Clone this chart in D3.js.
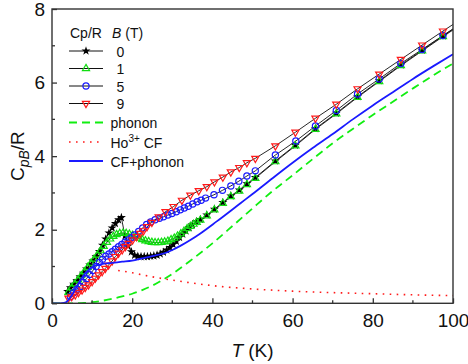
<!DOCTYPE html>
<html>
<head>
<meta charset="utf-8">
<script src="https://cdn.jsdelivr.net/npm/d3@7"></script>
<style>
  body { margin: 0; background: #fff; }
  svg { font-family: "Liberation Sans", Arial, sans-serif; }
</style>
</head>
<body>
<div id="chart"></div>
<script>
// measured data, [T (K), Cp/R]
const field0 = [[3.9,0.32],[4.6,0.42],[5.4,0.52],[6.2,0.62],[7.0,0.72],[7.8,0.82],[8.6,0.93],[9.4,1.04],[10.2,1.15],[11.0,1.27],[11.8,1.41],[12.6,1.58],[13.4,1.75],[14.2,1.91],[15.0,2.05],[15.8,2.17],[16.6,2.27],[17.3,2.33],[18.2,1.83],[19.0,1.56],[19.8,1.40],[20.6,1.31],[21.4,1.28],[22.2,1.27],[23.0,1.27],[23.8,1.27],[24.6,1.28],[25.4,1.29],[26.2,1.31],[27.0,1.34],[27.8,1.39],[28.6,1.45],[29.4,1.52],[30.2,1.60],[31.0,1.69],[31.8,1.79],[32.6,1.88],[33.4,1.97],[34.2,2.06],[35.0,2.14],[36.0,2.22],[37.0,2.28],[38.6,2.40],[40.5,2.56],[42.6,2.74],[44.6,2.92],[46.7,3.08],[48.6,3.25],[50.7,3.42],[55.7,3.87],[60.7,4.30],[65.7,4.75],[70.9,5.17],[76.2,5.62],[81.6,6.05],[87.0,6.48],[92.3,6.88],[97.5,7.27],[100,7.45]];
const field1 = [[4.1,0.30],[4.9,0.42],[5.7,0.53],[6.5,0.64],[7.3,0.75],[8.1,0.86],[8.9,0.98],[9.7,1.09],[10.5,1.20],[11.3,1.31],[12.1,1.43],[12.9,1.55],[13.7,1.66],[14.5,1.75],[15.3,1.82],[16.1,1.87],[16.9,1.90],[17.7,1.91],[18.5,1.90],[19.3,1.88],[20.1,1.85],[20.9,1.81],[21.7,1.77],[22.5,1.73],[23.3,1.70],[24.1,1.68],[24.9,1.66],[25.7,1.65],[26.5,1.65],[27.3,1.66],[28.1,1.67],[28.9,1.69],[29.7,1.73],[30.5,1.77],[31.3,1.83],[32.1,1.89],[32.9,1.96],[33.7,2.03],[34.5,2.09],[35.3,2.15],[36.1,2.20],[37.0,2.26],[38.6,2.38],[40.5,2.54],[42.6,2.72],[44.6,2.90],[46.7,3.05],[48.6,3.23],[50.7,3.40],[55.7,3.85],[60.7,4.28],[65.7,4.73],[70.9,5.15],[76.2,5.60],[81.6,6.03],[87.0,6.46],[92.3,6.86],[97.5,7.25],[100,7.43]];
const field5 = [[4.6,0.18],[5.4,0.29],[6.2,0.38],[7.0,0.46],[7.8,0.57],[8.6,0.67],[9.4,0.78],[10.2,0.89],[11.0,1.00],[11.8,1.11],[12.6,1.20],[13.4,1.28],[14.2,1.34],[15.0,1.40],[15.8,1.47],[16.6,1.54],[17.4,1.60],[18.2,1.66],[19.0,1.72],[19.8,1.78],[20.6,1.86],[21.6,1.95],[22.6,2.05],[23.6,2.14],[24.6,2.21],[25.7,2.27],[26.8,2.31],[27.8,2.35],[28.9,2.40],[29.9,2.44],[31.0,2.49],[32.0,2.54],[33.0,2.59],[34.0,2.64],[35.1,2.70],[36.2,2.76],[37.2,2.80],[38.3,2.86],[40.4,2.95],[42.5,3.07],[44.6,3.19],[46.6,3.32],[48.6,3.46],[50.7,3.60],[55.7,4.03],[60.8,4.41],[65.7,4.82],[70.9,5.24],[76.2,5.69],[81.6,6.10],[87.0,6.52],[92.3,6.90],[97.5,7.28],[100,7.46]];
const field9 = [[4.1,0.14],[4.9,0.18],[5.8,0.23],[6.6,0.29],[7.5,0.36],[8.3,0.43],[9.1,0.50],[10.0,0.59],[10.8,0.68],[11.6,0.77],[12.5,0.86],[13.3,0.95],[14.1,1.04],[15.0,1.15],[15.8,1.27],[16.6,1.36],[17.5,1.45],[18.3,1.54],[19.1,1.63],[20.1,1.72],[21.1,1.81],[22.0,1.90],[22.8,1.97],[23.7,2.08],[24.9,2.20],[26.6,2.35],[28.3,2.49],[30.3,2.63],[32.4,2.80],[34.5,2.94],[36.6,3.06],[38.6,3.17],[40.5,3.30],[42.6,3.43],[44.6,3.57],[46.7,3.69],[48.6,3.82],[50.7,3.94],[55.7,4.28],[60.7,4.65],[65.7,5.03],[70.9,5.41],[76.2,5.83],[81.6,6.23],[87.0,6.63],[92.3,7.02],[97.5,7.40],[100,7.58]];

// model curves
const phononT = [0,5,8,10,12,15,17.5,20,22.5,25,27.5,30,35,40,45,50,55,60,65,70,75,80,85,90,95,100];
const phononV = [0,0,0.01,0.03,0.06,0.12,0.19,0.26,0.36,0.48,0.63,0.80,1.20,1.63,2.10,2.58,3.05,3.48,3.92,4.35,4.74,5.12,5.48,5.84,6.19,6.52];
const cfT = [16.5,18,20,25,30,35,40,50,60,70,80,90,100];
const cfV = [0.89,0.87,0.83,0.72,0.63,0.55,0.48,0.39,0.33,0.29,0.26,0.23,0.21];
const totalT = [0,2,3,3.5,4,4.5,5,5.5,6,6.6,7.4,8.3,9.1,10,11,12.5,15,17.5,20,22.5,25,28,30,32,34.5,37,41,47,50,55,60,65,70,75,80,85,90,95,100];
const totalV = [0,0,0.01,0.03,0.08,0.15,0.23,0.32,0.42,0.54,0.68,0.82,0.91,0.98,1.03,1.07,1.10,1.13,1.16,1.22,1.28,1.36,1.45,1.56,1.72,1.90,2.22,2.72,2.97,3.40,3.82,4.22,4.60,5.00,5.38,5.74,6.10,6.44,6.77];

const xTicks = [0, 20, 40, 60, 80, 100];
const yTicks = [0, 2, 4, 6, 8];

const width = 468, height = 364;
const mLeft = 52, mRight = 453, mTop = 9, mBottom = 303.3;

const svg = d3.select('#chart').append('svg')
    .attr('width', width)
    .attr('height', height);

const x = d3.scaleLinear().domain([0, 100]).range([mLeft, mRight]);
const y = d3.scaleLinear().domain([0, 8]).range([mBottom, mTop]);

svg.append('clipPath').attr('id', 'plot')
    .append('rect').attr('x', mLeft).attr('y', mTop)
    .attr('width', mRight - mLeft).attr('height', mBottom - mTop);

const plot = svg.append('g').attr('clip-path', 'url(#plot)');

const line = d3.line().x(d => x(d[0])).y(d => y(d[1]));
const zip = (ts, vs) => ts.map((t, i) => [t, vs[i]]);

// model curves
plot.append('path').datum(zip(phononT, phononV))
    .attr('d', line.curve(d3.curveMonotoneX))
    .attr('fill', 'none').attr('stroke', '#11ee11')
    .attr('stroke-width', 1.8).attr('stroke-dasharray', '8,5');
plot.append('path').datum(zip(cfT, cfV))
    .attr('d', line.curve(d3.curveMonotoneX))
    .attr('fill', 'none').attr('stroke', '#ff1a1a')
    .attr('stroke-width', 1.6).attr('stroke-dasharray', '1.6,5.4');

const series = [
    { label: '0', data: field0, color: '#000', shape: 'star' },
    { label: '1', data: field1, color: '#11dd11', shape: 'up' },
    { label: '5', data: field5, color: '#1a1aff', shape: 'circle' },
    { label: '9', data: field9, color: '#ff1a1a', shape: 'down' }
];

const sym = {
    star: d3.symbol().type(d3.symbolStar).size(9),
    up: d3.symbol().type(d3.symbolTriangle).size(22),
    down: d3.symbol().type(d3.symbolTriangle).size(22),
    circle: null
};

function marker(g, s, cx, cy) {
    if (s.shape === 'circle') {
        g.append('circle').attr('cx', cx).attr('cy', cy).attr('r', 3.1)
            .attr('fill', 'none').attr('stroke', s.color).attr('stroke-width', 1.2);
    } else {
        const rot = s.shape === 'down' ? 180 : 0;
        g.append('path').attr('d', sym[s.shape]())
            .attr('transform', `translate(${cx},${cy}) rotate(${rot})`)
            .attr('fill', s.shape === 'star' ? s.color : 'none')
            .attr('stroke', s.color).attr('stroke-width', 1.2);
    }
}

// connecting lines first, then markers
series.forEach(s => {
    plot.append('path').datum(s.data)
        .attr('d', line.curve(d3.curveLinear))
        .attr('fill', 'none').attr('stroke', '#111').attr('stroke-width', 0.9);
});
series.forEach(s => {
    const g = plot.append('g');
    s.data.filter(d => d[0] < 99).forEach(d => marker(g, s, x(d[0]), y(d[1])));
});

plot.append('path').datum(zip(totalT, totalV))
    .attr('d', line.curve(d3.curveMonotoneX))
    .attr('fill', 'none').attr('stroke', '#1a1aff').attr('stroke-width', 1.8);

// axes
const axisColor = '#333';
const xAxis = svg.append('g').attr('transform', `translate(0,${mBottom})`)
    .call(d3.axisBottom(x).tickValues(xTicks).tickSize(-5).tickPadding(10));
const yAxis = svg.append('g').attr('transform', `translate(${mLeft},0)`)
    .call(d3.axisLeft(y).tickValues(yTicks).tickSize(-5).tickPadding(7));
[xAxis, yAxis].forEach(a => {
    a.select('.domain').remove();
    a.selectAll('line').attr('stroke', axisColor).attr('stroke-width', 1.3);
    a.selectAll('text').attr('font-size', 19).attr('fill', '#111')
        .attr('font-family', '"Liberation Sans", Arial, sans-serif');
});

svg.append('g').selectAll('line').data(d3.range(10, 100, 20)).join('line')
    .attr('x1', d => x(d)).attr('x2', d => x(d))
    .attr('y1', mBottom).attr('y2', mBottom - 3)
    .attr('stroke', axisColor).attr('stroke-width', 1.3);
svg.append('g').selectAll('line').data(d3.range(1, 8, 2)).join('line')
    .attr('x1', mLeft).attr('x2', mLeft + 3)
    .attr('y1', d => y(d)).attr('y2', d => y(d))
    .attr('stroke', axisColor).attr('stroke-width', 1.3);

svg.append('rect').attr('x', mLeft).attr('y', mTop)
    .attr('width', mRight - mLeft).attr('height', mBottom - mTop)
    .attr('fill', 'none').attr('stroke', axisColor).attr('stroke-width', 1.4);

// axis titles
const xt = svg.append('text').attr('x', (mLeft + mRight) / 2).attr('y', 356.5)
    .attr('text-anchor', 'middle').attr('font-size', 19).attr('fill', '#111');
xt.append('tspan').attr('font-style', 'italic').text('T');
xt.append('tspan').text(' (K)');

const yt = svg.append('text')
    .attr('transform', `translate(24,${(mTop + mBottom) / 2}) rotate(-90)`)
    .attr('text-anchor', 'middle').attr('font-size', 19).attr('fill', '#111');
yt.append('tspan').text('C');
yt.append('tspan').attr('font-style', 'italic').attr('font-size', 14).attr('dy', 5).text('pB');
yt.append('tspan').attr('dy', -5).text('/R');

// legend
const lg = svg.append('g').attr('font-size', 14).attr('fill', '#111');
lg.append('text').attr('x', 70).attr('y', 38).text('Cp/R');
const bt = lg.append('text').attr('x', 112).attr('y', 38);
bt.append('tspan').attr('font-style', 'italic').text('B');
bt.append('tspan').text(' (T)');

const rowY = [51, 68.5, 86, 103.5];
series.forEach((s, i) => {
    lg.append('line').attr('x1', 69).attr('x2', 103).attr('y1', rowY[i]).attr('y2', rowY[i])
        .attr('stroke', '#111').attr('stroke-width', 1);
    marker(lg, s, 86, rowY[i]);
    lg.append('text').attr('x', 116.5).attr('y', rowY[i] + 5.5).text(s.label);
});

const models = [
    { y: 122.5, label: 'phonon', color: '#11ee11', dash: '8,5', w: 1.8 },
    { y: 142, label: 'Ho', color: '#ff1a1a', dash: '1.6,5.4', w: 1.6 },
    { y: 161, label: 'CF+phonon', color: '#1a1aff', dash: null, w: 1.8 }
];
models.forEach(m => {
    lg.append('line').attr('x1', 69).attr('x2', 103).attr('y1', m.y).attr('y2', m.y)
        .attr('stroke', m.color).attr('stroke-width', m.w)
        .attr('stroke-dasharray', m.dash);
    const t = lg.append('text').attr('x', 110.5).attr('y', m.y + 5.5).text(m.label);
    if (m.label === 'Ho') {
        t.append('tspan').attr('font-size', 10).attr('dy', -6).text('3+');
        t.append('tspan').attr('dy', 6).text(' CF');
    }
});
</script>
</body>
</html>
